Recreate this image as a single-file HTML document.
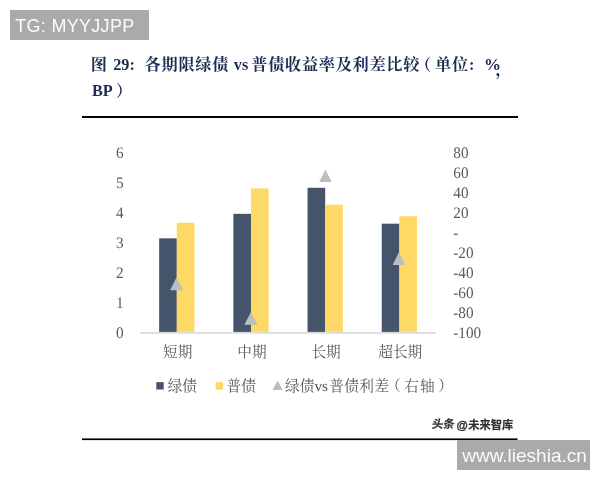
<!DOCTYPE html>
<html><head><meta charset="utf-8"><title>chart</title>
<style>
html,body{margin:0;padding:0;background:#fff;}
body{width:600px;height:480px;overflow:hidden;font-family:"Liberation Sans",sans-serif;}
svg{display:block;will-change:transform;}
.ax{font-family:"Liberation Serif","Noto Serif CJK SC",serif;font-size:15.2px;text-rendering:geometricPrecision;fill:#595959;}
.cj{font-family:"Liberation Serif","Noto Serif CJK SC",serif;font-size:14.67px;fill:#595959;}
.tb{font-family:"Liberation Serif","Noto Serif CJK SC",serif;font-weight:bold;font-size:16.2px;fill:#1b2b52;}
.w1{font-family:"Liberation Sans",sans-serif;font-size:18px;fill:#fafafa;}
.w2{font-family:"Liberation Sans",sans-serif;font-size:19px;fill:#fafafa;}
.w3{font-family:"Liberation Sans","Noto Sans CJK SC",sans-serif;font-weight:bold;font-size:11.6px;}
.w4{font-family:"Liberation Sans","Noto Sans CJK SC",sans-serif;font-weight:bold;font-size:11.3px;}
</style></head><body>
<svg role="img" aria-label="图 29: 各期限绿债 vs 普债收益率及利差比较（单位：%，BP）" width="600" height="480" viewBox="0 0 600 480">
<title>图 29: 各期限绿债 vs 普债收益率及利差比较（单位：%，BP）</title><desc>柱状图：短期、中期、长期、超长期；图例：绿债、普债、绿债vs普债利差（右轴）。水印：头条 @未来智库</desc>
<rect x="82" y="116" width="436" height="2" fill="#000"/><rect x="82" y="438.4" width="435.5" height="1.7" fill="#000"/><rect x="10" y="10" width="139" height="30" fill="#aaaaaa"/><rect x="457" y="440" width="133" height="30" fill="#aaaaaa"/><rect x="159.15" y="238.35" width="17.65" height="93.55" fill="#44546a"/><rect x="176.80" y="222.79" width="17.65" height="109.11" fill="#ffd966"/><rect x="233.35" y="213.82" width="17.65" height="118.08" fill="#44546a"/><rect x="251.00" y="188.39" width="17.65" height="143.51" fill="#ffd966"/><rect x="307.55" y="187.79" width="17.65" height="144.11" fill="#44546a"/><rect x="325.20" y="204.69" width="17.65" height="127.21" fill="#ffd966"/><rect x="381.75" y="223.69" width="17.65" height="108.21" fill="#44546a"/><rect x="399.40" y="216.21" width="17.65" height="115.69" fill="#ffd966"/><rect x="140" y="332.0" width="296" height="1.8" fill="#dcdcdc"/><path d="M176.60 277.30 L183.15 290.20 L170.05 290.20 Z" fill="#bdbdbd"/><path d="M250.90 312.00 L257.40 324.80 L244.40 324.80 Z" fill="#bdbdbd"/><path d="M325.40 169.50 L331.60 182.00 L319.20 182.00 Z" fill="#bdbdbd"/><path d="M399.00 252.10 L405.40 264.90 L392.60 264.90 Z" fill="#bdbdbd"/><text transform="translate(115.9 337.95) scale(1 1.055)" class="ax">0</text><text transform="translate(115.9 308.03) scale(1 1.055)" class="ax">1</text><text transform="translate(115.9 278.11) scale(1 1.055)" class="ax">2</text><text transform="translate(115.9 248.19) scale(1 1.055)" class="ax">3</text><text transform="translate(115.9 218.27) scale(1 1.055)" class="ax">4</text><text transform="translate(115.9 188.35) scale(1 1.055)" class="ax">5</text><text transform="translate(115.9 158.43) scale(1 1.055)" class="ax">6</text><text transform="translate(453.3 158.25) scale(1 1.055)" class="ax">80</text><text transform="translate(453.3 178.19) scale(1 1.055)" class="ax">60</text><text transform="translate(453.3 198.14) scale(1 1.055)" class="ax">40</text><text transform="translate(453.3 218.08) scale(1 1.055)" class="ax">20</text><text transform="translate(453.3 238.03) scale(1 1.055)" class="ax">-</text><text transform="translate(453.3 257.97) scale(1 1.055)" class="ax">-20</text><text transform="translate(453.3 277.91) scale(1 1.055)" class="ax">-40</text><text transform="translate(453.3 297.86) scale(1 1.055)" class="ax">-60</text><text transform="translate(453.3 317.80) scale(1 1.055)" class="ax">-80</text><text transform="translate(453.3 337.75) scale(1 1.055)" class="ax">-100</text>
<text x="163.03" y="356.7" class="cj">短期</text>
<text x="237.23" y="356.7" class="cj">中期</text>
<text x="311.43" y="356.7" class="cj">长期</text>
<text x="378.29" y="356.7" class="cj">超长期</text>
<rect x="156.3" y="382.1" width="7.4" height="7.4" fill="#44546a"/>
<text x="167.64" y="390.6" class="cj">绿债</text>
<rect x="215.6" y="382.2" width="7.4" height="7.4" fill="#ffd966"/>
<text x="226.6" y="390.6" class="cj">普债</text>
<path d="M277.6 380.4 L282.7 389.9 L272.5 389.9 Z" fill="#bdbdbd"/>
<text x="285.04" y="390.6" class="cj">绿债</text>
<text x="314.4" y="390.8" class="ax" style="font-size:15.4px">vs</text>
<text x="329.25" y="390.6" class="cj" textLength="59.85" lengthAdjust="spacing">普债利差</text>
<text x="386" y="390.6" class="cj">（</text><text x="404.3" y="390.6" class="cj">右</text><text x="420" y="390.6" class="cj">轴</text><text x="438.2" y="390.6" class="cj">）</text>
<text x="90.84" y="70" class="tb">图</text>
<text x="113.2" y="70.4" class="tb">29:</text>
<text x="144.48" y="70" class="tb" textLength="84.03" lengthAdjust="spacing">各期限绿债</text>
<text x="233.8" y="70.4" class="tb">vs</text>
<text x="251.37" y="70" class="tb" textLength="167.99" lengthAdjust="spacing">普债收益率及利差比较</text>
<text x="415.06" y="70" class="tb">（</text>
<text x="435.01" y="70" class="tb" textLength="33.22" lengthAdjust="spacing">单位</text>
<text x="469.0" y="70.4" class="tb">:</text><text x="483.9" y="70.4" class="tb" style="font-size:17px">%</text>
<text x="495.44" y="74.63" class="tb">，</text>
<text x="92.0" y="95.5" class="tb">BP</text>
<text x="116" y="95.6" class="tb">）</text>
<text x="15.2" y="31.8" class="w1" textLength="119" lengthAdjust="spacing">TG: MYYJJPP</text><text x="462.2" y="461.8" class="w2">www.lieshia.cn</text>
<g opacity="0.95"><g transform="translate(0.00 0) skewX(-9) translate(67.87 0)"><text x="431.4" y="428.5" class="w4" fill="#fff" stroke="#fff" stroke-width="2.6" stroke-linejoin="round">头条</text></g><text x="468.2" y="428.5" class="w4" fill="#fff" stroke="#fff" stroke-width="2.6" stroke-linejoin="round">未来智库</text><text x="456.4" y="428.50" class="w3" fill="#fff" stroke="#fff" stroke-width="2.4" stroke-linejoin="round">@</text></g>
<g transform="translate(0.00 0) skewX(-9) translate(67.87 0)"><text x="431.4" y="428.5" class="w4" fill="#2e2e2e" stroke="#2e2e2e" stroke-width="0.16">头条</text></g>
<text x="468.2" y="428.5" class="w4" fill="#2e2e2e" stroke="#2e2e2e" stroke-width="0.16">未来智库</text>
<text x="456.4" y="428.50" class="w3" fill="#2e2e2e" stroke="#2e2e2e" stroke-width="0.35">@</text>
</svg>
</body></html>
